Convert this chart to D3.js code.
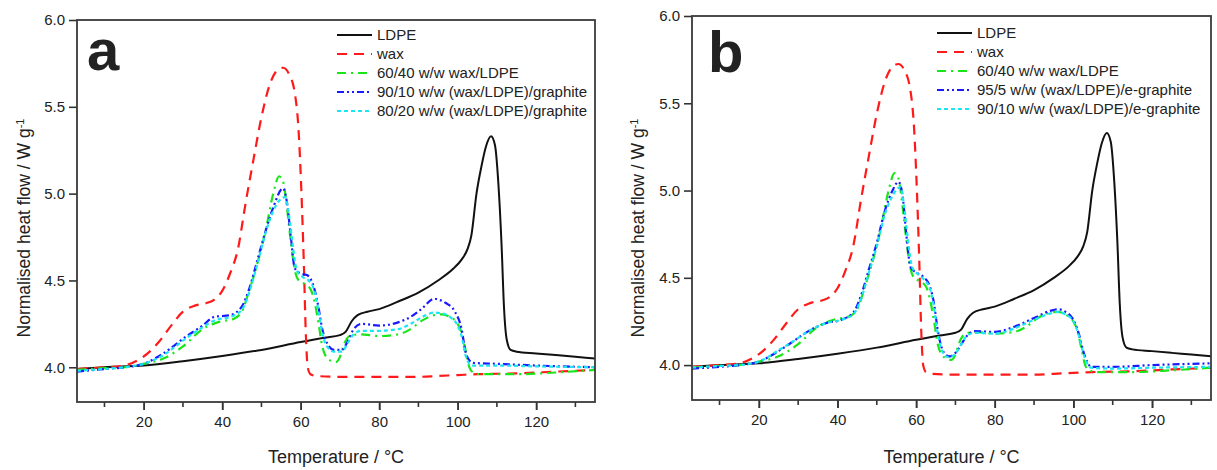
<html>
<head>
<meta charset="utf-8">
<title>DSC curves</title>
<script src="https://cdn.jsdelivr.net/npm/d3@7/dist/d3.min.js"></script>
<style>
  body { margin: 0; background: #fff; }
  text { font-family: Arial, "Liberation Sans", sans-serif; fill: #222; }
</style>
</head>
<body>
<script>
// ---- data (temperature in C, normalised heat flow in W/g) ----
var ldpe = [[3,3.99],[10,4.0],[20,4.01],[30,4.035],[40,4.065],[50,4.1],[60,4.145],[66,4.17],[70,4.185],
  [71.5,4.205],[73,4.265],[74.5,4.3],[77,4.32],[80,4.335],[85,4.38],[90,4.43],[95,4.5],[99,4.57],[101,4.62],
  [102.5,4.68],[103.5,4.76],[104.8,5.0],[106,5.15],[107.2,5.27],[108.5,5.33],[109.5,5.28],[110.4,5.05],
  [111.2,4.7],[111.8,4.35],[112.5,4.16],[113.5,4.1],[115,4.09],[120,4.08],[125,4.07],[130,4.06],[135,4.05]];

var wax = [[3,3.99],[10,4.0],[15,4.01],[18,4.035],[21,4.08],[24,4.15],[27,4.24],[30,4.32],[33,4.355],[36,4.37],
  [38,4.39],[40,4.44],[42,4.54],[44,4.68],[46,4.95],[48,5.2],[50,5.44],[52,5.62],[54,5.71],[55.5,5.725],[57,5.69],
  [58.5,5.58],[59.5,5.35],[60.2,5.0],[60.8,4.6],[61.3,4.2],[61.8,4.0],[62.5,3.96],[64,3.95],[70,3.945],[80,3.945],
  [90,3.945],[95,3.95],[100,3.955],[105,3.96],[115,3.965],[125,3.975],[135,3.985]];

var blend6040 = [[3,3.985],[10,3.995],[15,4.0],[20,4.02],[25,4.05],[30,4.12],[35,4.22],[39,4.26],[43,4.28],[45,4.32],
  [47,4.45],[49,4.6],[51,4.78],[53,5.0],[54.5,5.1],[55.5,5.07],[56.5,4.92],[57.5,4.72],[58.5,4.56],[59.5,4.5],[61,4.48],
  [62.5,4.45],[63.5,4.38],[64.5,4.26],[65.5,4.12],[66.5,4.06],[68,4.035],[69,4.03],[70,4.06],[71,4.13],[72.5,4.18],
  [75,4.19],[80,4.18],[85,4.19],[88,4.22],[91,4.27],[94,4.3],[96,4.305],[98,4.29],[100,4.25],[101,4.2],[102,4.1],
  [103,4.0],[104,3.97],[106,3.96],[115,3.96],[125,3.97],[135,3.985]];

var graphite10 = [[3,3.975],[10,3.99],[15,4.0],[20,4.02],[25,4.08],[31,4.18],[35,4.24],[38,4.29],[42,4.3],[45,4.35],
  [47,4.46],[49,4.62],[51,4.78],[53,4.92],[55.5,5.03],[56.5,4.95],[57.5,4.75],[58.5,4.57],[60,4.54],[61.7,4.53],
  [63.5,4.45],[64.5,4.35],[65.5,4.22],[66.7,4.14],[68.5,4.1],[70.5,4.1],[72,4.15],[73.5,4.22],[75.5,4.25],[80,4.24],
  [85,4.26],[88,4.29],[91,4.34],[94,4.395],[95,4.39],[97,4.37],[99.3,4.32],[101,4.22],[102,4.09],[103,4.04],
  [104,4.025],[110,4.02],[120,4.01],[135,4.0]];

var graphite20 = [[3,3.98],[10,3.99],[15,4.0],[20,4.02],[25,4.07],[31,4.17],[35,4.23],[38,4.27],[42,4.29],[45,4.33],
  [47,4.44],[49,4.6],[51,4.77],[53,4.9],[56,4.98],[57,4.88],[58,4.7],[59,4.56],[60.5,4.52],[62,4.5],[63.5,4.44],
  [64.5,4.33],[65.5,4.2],[66.7,4.12],[68.5,4.09],[70.5,4.09],[72,4.14],[73.5,4.19],[75.5,4.21],[80,4.21],[85,4.22],
  [88,4.25],[91,4.29],[94,4.315],[96,4.31],[98,4.29],[100,4.24],[101,4.18],[102,4.07],[103,4.02],[104,4.01],
  [110,4.01],[120,4.005],[135,4.0]];

var egraphite5 = [[3,3.98],[10,3.99],[15,4.0],[20,4.02],[25,4.08],[29,4.14],[33,4.2],[37,4.24],[41,4.26],[44,4.3],
  [46,4.4],[48,4.55],[50,4.7],[52,4.88],[54,5.0],[55.5,5.05],[56.5,4.98],[57.5,4.75],[58.6,4.56],[60,4.53],[61.6,4.51],
  [63.5,4.45],[64.5,4.36],[65.5,4.2],[66.5,4.1],[67.5,4.06],[68.5,4.05],[70,4.07],[71.5,4.12],[73,4.17],[75,4.195],
  [80,4.19],[85,4.22],[90,4.27],[94,4.31],[96,4.32],[98,4.305],[100,4.26],[101.5,4.17],[102.5,4.08],[103.5,4.02],
  [104.5,3.99],[110,3.99],[120,4.0],[135,4.01]];

var egraphite10 = [[3,3.985],[10,3.995],[15,4.0],[20,4.02],[25,4.085],[29,4.14],[33,4.2],[37,4.24],[41,4.26],[44,4.29],
  [46,4.38],[48,4.53],[50,4.68],[52,4.86],[54,4.97],[56,5.02],[57,4.9],[58,4.7],[59,4.56],[60.5,4.52],[62,4.49],
  [63.5,4.44],[64.5,4.34],[65.5,4.18],[66.5,4.09],[67.5,4.05],[68.5,4.045],[70,4.065],[71.5,4.12],[73,4.17],
  [75,4.185],[80,4.18],[85,4.21],[90,4.26],[94,4.295],[96,4.305],[98,4.29],[100,4.25],[101.5,4.16],[102.5,4.07],
  [103.5,4.01],[104.5,3.985],[110,3.98],[120,3.985],[135,3.99]];

var legendA = ["LDPE", "wax", "60/40 w/w wax/LDPE", "90/10 w/w (wax/LDPE)/graphite", "80/20 w/w (wax/LDPE)/graphite"];
var legendB = ["LDPE", "wax", "60/40 w/w wax/LDPE", "95/5 w/w (wax/LDPE)/e-graphite", "90/10 w/w (wax/LDPE)/e-graphite"];
var xTicks = [20, 40, 60, 80, 100, 120];
var xMinor = [10, 30, 50, 70, 90, 110, 130];
var yTicks = [4.0, 4.5, 5.0, 5.5, 6.0];

var colors = ["#111111", "#ff1a1a", "#19e619", "#1a1aff", "#19e6f0"];
var dashes = [null, "10,7", "9,5,2,5", "7,3,2,3,2,3", "4,3"];

var svg = d3.select("body").append("svg").attr("width", 1217).attr("height", 470);

var panels = [
  {id: "a", left: 77, right: 595, top: 20, bottom: 402, series: [ldpe, wax, blend6040, graphite10, graphite20],
   names: legendA, legX: 337, legY: 35, letterX: 87, letterY: 70, yTitleX: 24},
  {id: "b", left: 692, right: 1211, top: 16, bottom: 400, series: [ldpe, wax, blend6040, egraphite5, egraphite10],
   names: legendB, legX: 937, legY: 33, letterX: 708, letterY: 72, yTitleX: 638}
];

panels.forEach(function(p) {
  var x = d3.scaleLinear().domain([3, 135]).range([p.left, p.right]);
  var y = d3.scaleLinear().domain([3.8, 6.0]).range([p.bottom, p.top]);
  var g = svg.append("g");

  g.append("clipPath").attr("id", "clip" + p.id)
    .append("rect").attr("x", p.left).attr("y", p.top)
    .attr("width", p.right - p.left).attr("height", p.bottom - p.top);

  var line = d3.line().x(function(d){ return x(d[0]); }).y(function(d){ return y(d[1]); })
    .curve(d3.curveMonotoneX);

  g.append("g").attr("clip-path", "url(#clip" + p.id + ")")
    .selectAll("path").data(p.series).enter().append("path")
    .attr("d", line)
    .attr("fill", "none")
    .attr("stroke", function(d, i){ return colors[i]; })
    .attr("stroke-width", function(d, i){ return i == 0 ? 2 : 2.2; })
    .attr("stroke-dasharray", function(d, i){ return dashes[i]; });

  // axes
  var xAxis = d3.axisBottom(x).tickValues(xTicks).tickSize(8).tickPadding(6);
  var ax = g.append("g").attr("transform", "translate(0," + p.bottom + ")").call(xAxis);
  ax.selectAll(".tick").append("line").attr("y2", 8);
  g.append("g").attr("transform", "translate(0," + p.bottom + ")")
    .selectAll("line").data(xMinor).enter().append("line")
    .attr("x1", function(d){ return x(d); }).attr("x2", function(d){ return x(d); })
    .attr("y1", 0).attr("y2", 5).attr("stroke", "#333").attr("stroke-width", 1.6);

  var yAxis = d3.axisLeft(y).tickValues(yTicks).tickFormat(d3.format(".1f")).tickSize(8).tickPadding(4);
  var ay = g.append("g").attr("transform", "translate(" + p.left + ",0)").call(yAxis);

  [ax, ay].forEach(function(a) {
    a.select(".domain").remove();
    a.selectAll(".tick line").attr("stroke", "#333").attr("stroke-width", 1.6);
    a.selectAll(".tick text").style("font-size", "15px").attr("fill", "#222");
  });

  // frame
  g.append("rect").attr("x", p.left).attr("y", p.top)
    .attr("width", p.right - p.left).attr("height", p.bottom - p.top)
    .attr("fill", "none").attr("stroke", "#3a3a3a").attr("stroke-width", 1.8);

  // titles
  g.append("text").attr("x", (p.left + p.right) / 2).attr("y", 463)
    .attr("text-anchor", "middle").style("font-size", "18px")
    .text("Temperature / °C");

  var yt = g.append("text")
    .attr("transform", "translate(" + p.yTitleX + ",228) rotate(-90)")
    .attr("text-anchor", "middle").attr("dy", "0.35em").style("font-size", "17.5px");
  yt.append("tspan").text("Normalised heat flow / W g");
  yt.append("tspan").attr("dy", "-0.6em").style("font-size", "11px").text("-1");

  g.append("text").attr("x", p.letterX).attr("y", p.letterY)
    .style("font-size", "58px").style("font-weight", "bold").attr("fill", "#000")
    .text(p.id);

  // legend
  var leg = g.selectAll(".leg").data(p.names).enter().append("g")
    .attr("transform", function(d, i){ return "translate(" + p.legX + "," + (p.legY + i * 19) + ")"; });
  leg.append("line").attr("x1", 0).attr("x2", 35).attr("y1", 0).attr("y2", 0)
    .attr("stroke", function(d, i){ return colors[i]; })
    .attr("stroke-width", 2.2)
    .attr("stroke-dasharray", function(d, i){ return dashes[i]; });
  leg.append("text").attr("x", 40).attr("dy", "0.35em").style("font-size", "15px")
    .text(function(d){ return d; });
});
</script>
</body>
</html>
